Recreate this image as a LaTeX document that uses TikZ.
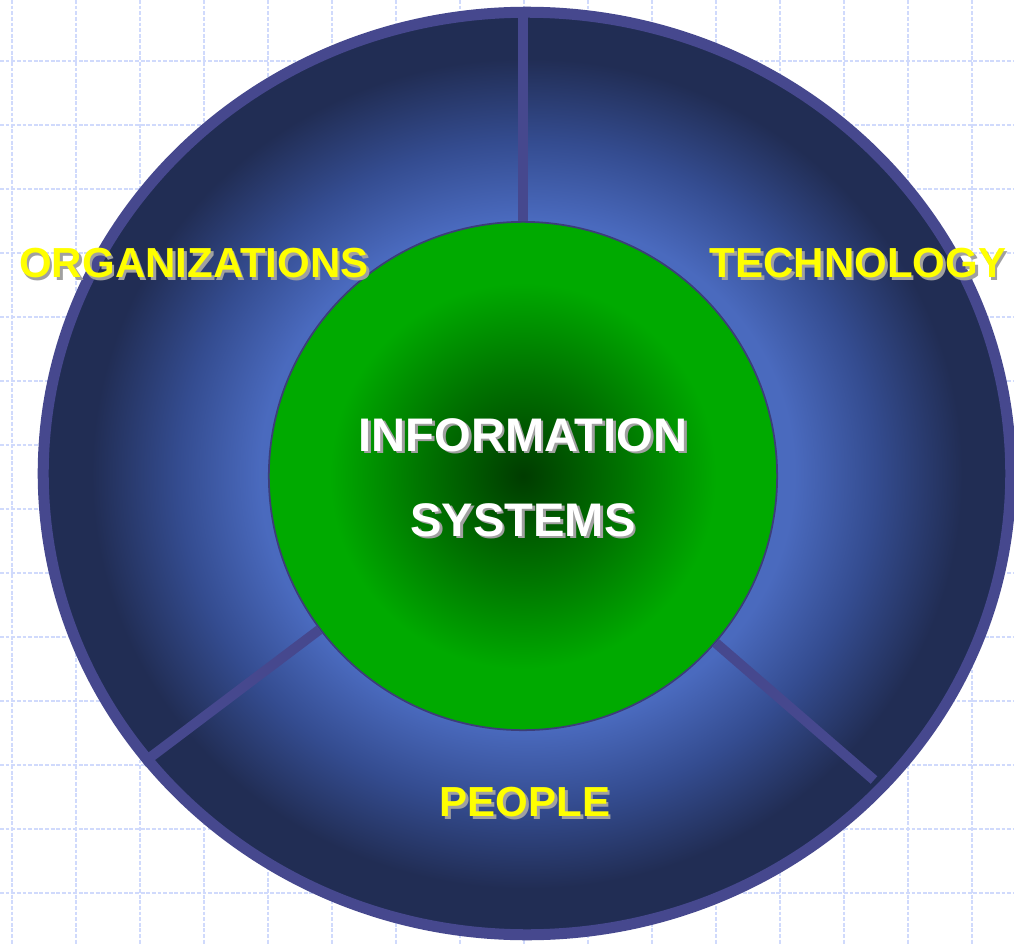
\documentclass[tikz,border=0pt]{standalone}
\usepackage{fontspec}
\setmainfont{Liberation Sans}
\usepackage{tikz}
\usetikzlibrary{shapes, positioning}

\definecolor{rimblue}{RGB}{70,72,142}
\definecolor{ringlight}{RGB}{74,106,190}
\definecolor{ringmid}{RGB}{52,76,144}
\definecolor{ringdark}{RGB}{33,45,84}
\definecolor{discdark}{RGB}{0,60,0}
\definecolor{discmid}{RGB}{0,116,0}
\definecolor{disclight}{RGB}{0,170,0}
\definecolor{gridblue}{RGB}{208,218,252}
\definecolor{labelyellow}{RGB}{255,255,0}
\definecolor{shadowgray}{RGB}{160,160,160}

% tikz fits the path into the inner 25bp radius
\pgfdeclareradialshading{ringshade}{\pgfpoint{0bp}{0bp}}{color(0bp)=(ringlight); color(13.8bp)=(ringlight); color(18bp)=(ringmid); color(22.5bp)=(ringdark); color(50bp)=(ringdark)}
\pgfdeclareradialshading{discshade}{\pgfpoint{0bp}{0bp}}{color(0bp)=(discdark); color(10bp)=(discmid); color(19bp)=(disclight); color(50bp)=(disclight)}

\begin{document}
\begin{tikzpicture}[x=0.01cm, y=-0.01cm,
  gridline/.style={gridblue, dash pattern=on 1.1pt off 0.5pt, line width=0.35pt},
  ring/.style={ellipse, draw=rimblue, line width=1.1mm, shading=ringshade,
    minimum width=9.67cm, minimum height=9.22cm, inner sep=0pt},
  disc/.style={circle, draw=rimblue!85!black, line width=0.5pt, shading=discshade,
    minimum size=5.08cm, inner sep=0pt},
  divider/.style={rimblue, line width=1mm},
  lbl/.style={font=\fontsize{11.95}{14}\selectfont\bfseries, text=labelyellow, inner sep=0pt},
  islbl/.style={font=\fontsize{13.4}{24.2}\selectfont\bfseries, text=white, inner sep=0pt, align=center},
  drop/.style={text=shadowgray, xshift=0.75pt, yshift=-0.75pt}]
  \path[fill=white, use as bounding box] (0,0) rectangle (1014,945);
  \clip (0,0) rectangle (1014,945);

  % background grid
  \foreach \gx in {12,76,...,972}
    \draw[gridline] (\gx,0) -- (\gx,945);
  \foreach \gy in {61,125,...,893}
    \draw[gridline] (0,\gy) -- (1014,\gy);

  \node[ring] (ring) at (527,473.5) {};
  \node[disc] (IS) at (523,476) {};

  \coordinate (lrEnd) at (874,780);
  \draw[divider] (IS) -- (IS |- ring.north);
  \draw[divider] (IS) -- (ring.217);
  \draw[divider] (IS) -- (lrEnd);

  \node[islbl, drop] (infoback) at (523,477.5) {INFORMATION\\SYSTEMS};
  \node[islbl] (info) at (523,477.5) {INFORMATION\\SYSTEMS};

  \node[lbl, drop] (orgback) at (194,263) {ORGANIZATIONS};
  \node[lbl] (org) at (194,263) {ORGANIZATIONS};
  \node[lbl, drop] (techback) at (858,263) {TECHNOLOGY};
  \node[lbl] (tech) at (858,263) {TECHNOLOGY};
  \node[lbl, drop] (peopleback) at (525,802) {PEOPLE};
  \node[lbl] (people) at (525,802) {PEOPLE};
\end{tikzpicture}
\end{document}
